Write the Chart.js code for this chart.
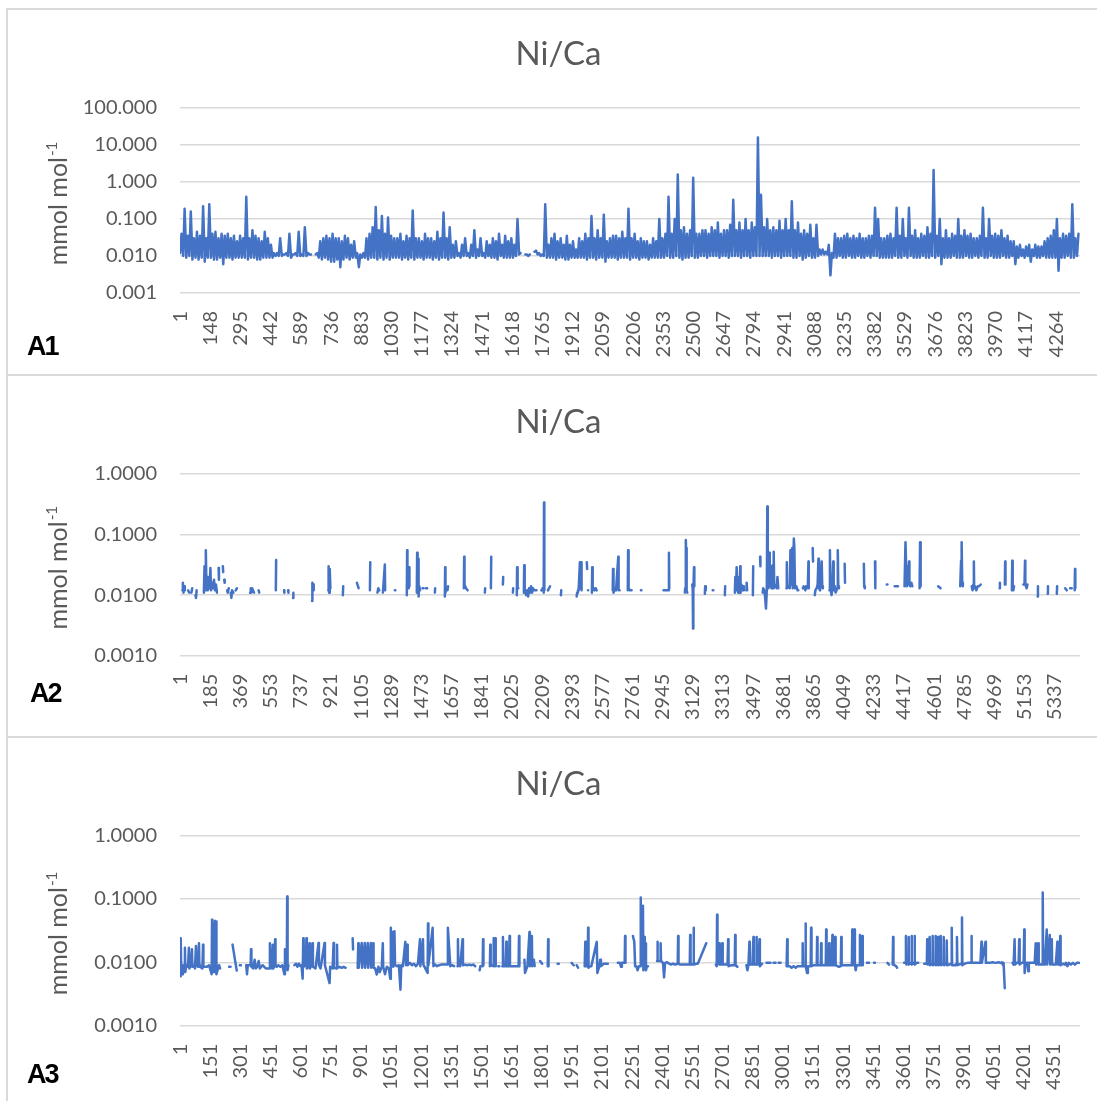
<!DOCTYPE html>
<html lang="en">
<head>
<meta charset="utf-8">
<title>Ni/Ca</title>
<script src="https://cdn.jsdelivr.net/npm/chart.js@4.4.1/dist/chart.umd.min.js"></script>
<style>
    html, body { margin: 0; padding: 0; background: #fff; overflow: hidden; }
    .cadre { position: absolute; left: 6px; width: 1200px; border: 2px solid #d9d9d9; box-sizing: border-box; }
    canvas { position: absolute; left: 7px; }
</style>
</head>
<body>
<div class="cadre" style="top:8px;height:368px"></div>
<div class="cadre" style="top:374px;height:364px"></div>
<div class="cadre" style="top:736px;height:400px"></div>
<canvas id="chartA1" width="1103" height="364" style="top:10px"></canvas>
<canvas id="chartA2" width="1103" height="360" style="top:376px"></canvas>
<canvas id="chartA3" width="1103" height="363" style="top:738px"></canvas>

<script>
// --- Données ---

// A1 : par tranche de 15 échantillons, valeur basse (début de tranche) et valeur haute (milieu de tranche)
const a1Count = 4380;
const a1FirstSample = 1;
const a1Step = 15;
const a1HighOffset = 7;
const a1High = [
    0.04, 0.19, 0.035, 0.16, 0.03, 0.045, 0.035, 0.22, 0.03, 0.25,
    0.04, 0.045, 0.03, 0.04, 0.035, 0.04, 0.03, 0.035, 0.025, 0.035,
    0.03, 0.4, 0.03, 0.05, 0.035, 0.03, 0.025, 0.045, 0.03, 0.02,
    0.012, 0.012, 0.03, 0.011, 0.012, 0.04, 0.011, 0.012, 0.045, 0.011,
    0.06, 0.012, 0.011, null, 0.012, 0.025, 0.03, 0.035, 0.03, 0.04,
    0.03, 0.03, 0.025, 0.035, 0.03, 0.02, 0.025, 0.012, 0.011, 0.012,
    0.03, 0.04, 0.06, 0.21, 0.05, 0.12, 0.04, 0.11, 0.035, 0.03,
    0.03, 0.04, 0.025, 0.035, 0.03, 0.17, 0.03, 0.03, 0.025, 0.04,
    0.03, 0.03, 0.025, 0.045, 0.03, 0.15, 0.03, 0.06, 0.02, 0.025,
    0.012, 0.02, 0.03, 0.012, 0.02, 0.05, 0.015, 0.03, 0.012, 0.025,
    0.02, 0.03, 0.025, 0.04, 0.02, 0.035, 0.025, 0.03, 0.02, 0.1,
    0.012, null, 0.011, 0.011, null, 0.014, 0.012, 0.011, 0.25, 0.02,
    0.03, 0.04, 0.025, 0.03, 0.02, 0.035, 0.02, 0.025, 0.015, 0.03,
    0.025, 0.04, 0.03, 0.12, 0.03, 0.05, 0.03, 0.13, 0.025, 0.03,
    0.035, 0.035, 0.03, 0.045, 0.03, 0.19, 0.03, 0.04, 0.025, 0.03,
    0.025, 0.025, 0.02, 0.03, 0.025, 0.1, 0.03, 0.04, 0.4, 0.04,
    0.1, 1.6, 0.05, 0.06, 0.04, 0.05, 1.3, 0.04, 0.04, 0.05,
    0.05, 0.04, 0.06, 0.05, 0.08, 0.04, 0.05, 0.05, 0.07, 0.33,
    0.05, 0.08, 0.05, 0.1, 0.05, 0.08, 0.06, 16, 0.45, 0.06,
    0.1, 0.05, 0.06, 0.05, 0.09, 0.05, 0.1, 0.05, 0.3, 0.05,
    0.08, 0.04, 0.05, 0.04, 0.07, 0.03, 0.07, 0.015, 0.015, 0.013,
    0.02, 0.012, 0.04, 0.03, 0.03, 0.035, 0.04, 0.03, 0.035, 0.03,
    0.04, 0.03, 0.03, 0.035, 0.035, 0.2, 0.1, 0.03, 0.03, 0.035,
    0.04, 0.03, 0.2, 0.035, 0.1, 0.03, 0.2, 0.035, 0.05, 0.03,
    0.04, 0.035, 0.06, 0.04, 2.1, 0.035, 0.1, 0.03, 0.05, 0.03,
    0.04, 0.035, 0.1, 0.035, 0.05, 0.035, 0.04, 0.03, 0.03, 0.035,
    0.2, 0.03, 0.1, 0.035, 0.04, 0.035, 0.05, 0.03, 0.035, 0.025,
    0.025, 0.018, 0.02, 0.015, 0.018, 0.02, 0.015, 0.02, 0.018, 0.018,
    0.025, 0.03, 0.035, 0.05, 0.1, 0.03, 0.04, 0.035, 0.04, 0.25, 0.03, 0.04
];
const a1Low = [
    0.012, 0.01, 0.009, 0.01, 0.008, 0.009, 0.008, 0.009, 0.007, 0.009,
    0.009, 0.008, 0.008, 0.009, 0.006, 0.009, 0.009, 0.008, 0.009, 0.009,
    0.009, 0.009, 0.008, 0.009, 0.009, 0.008, 0.008, 0.009, 0.009, 0.009,
    0.009, 0.01, 0.01, 0.01, 0.011, 0.01, 0.009, 0.011, 0.01, 0.01,
    0.01, 0.01, 0.011, null, 0.011, 0.009, 0.008, 0.009, 0.008, 0.007,
    0.007, 0.008, 0.005, 0.008, 0.009, 0.008, 0.009, 0.009, 0.005, 0.009,
    0.009, 0.008, 0.009, 0.009, 0.008, 0.009, 0.008, 0.009, 0.008, 0.009,
    0.009, 0.009, 0.008, 0.009, 0.008, 0.009, 0.008, 0.009, 0.009, 0.008,
    0.009, 0.009, 0.008, 0.009, 0.008, 0.009, 0.009, 0.008, 0.009, 0.009,
    0.01, 0.009, 0.01, 0.01, 0.009, 0.01, 0.009, 0.01, 0.01, 0.009,
    0.01, 0.009, 0.009, 0.008, 0.01, 0.009, 0.009, 0.009, 0.009, 0.01,
    0.011, null, 0.011, 0.01, null, 0.013, 0.011, 0.01, 0.01, 0.009,
    0.009, 0.009, 0.008, 0.009, 0.009, 0.008, 0.008, 0.009, 0.009, 0.009,
    0.009, 0.009, 0.008, 0.009, 0.009, 0.008, 0.009, 0.009, 0.007, 0.009,
    0.009, 0.009, 0.008, 0.009, 0.009, 0.009, 0.008, 0.009, 0.009, 0.008,
    0.009, 0.009, 0.008, 0.009, 0.009, 0.009, 0.009, 0.009, 0.01, 0.009,
    0.009, 0.01, 0.009, 0.008, 0.009, 0.009, 0.01, 0.009, 0.009, 0.01,
    0.01, 0.009, 0.01, 0.01, 0.01, 0.009, 0.01, 0.01, 0.009, 0.01,
    0.01, 0.01, 0.009, 0.01, 0.01, 0.009, 0.01, 0.01, 0.01, 0.01,
    0.01, 0.01, 0.009, 0.01, 0.01, 0.009, 0.01, 0.01, 0.01, 0.009,
    0.009, 0.01, 0.008, 0.009, 0.01, 0.009, 0.009, 0.01, 0.011, 0.011,
    0.011, 0.003, 0.009, 0.009, 0.01, 0.009, 0.009, 0.01, 0.009, 0.009,
    0.01, 0.009, 0.009, 0.01, 0.009, 0.01, 0.01, 0.009, 0.009, 0.009,
    0.009, 0.009, 0.01, 0.009, 0.009, 0.01, 0.009, 0.01, 0.009, 0.009,
    0.009, 0.01, 0.009, 0.009, 0.01, 0.009, 0.01, 0.006, 0.009, 0.009,
    0.009, 0.01, 0.009, 0.009, 0.009, 0.01, 0.009, 0.009, 0.01, 0.009,
    0.01, 0.009, 0.009, 0.01, 0.009, 0.009, 0.009, 0.01, 0.009, 0.009,
    0.01, 0.006, 0.009, 0.01, 0.009, 0.01, 0.007, 0.01, 0.009, 0.009,
    0.01, 0.009, 0.009, 0.009, 0.009, 0.004, 0.009, 0.009, 0.01, 0.009, 0.009, 0.01
];
const a1XTicks = [1, 148, 295, 442, 589, 736, 883, 1030, 1177, 1324, 1471, 1618, 1765, 1912, 2059,
    2206, 2353, 2500, 2647, 2794, 2941, 3088, 3235, 3382, 3529, 3676, 3823, 3970, 4117, 4264];
const a1YTicks = [0.001, 0.01, 0.1, 1, 10, 100];

// A2 : tronçons continus de [échantillon, Ni/Ca]
const a2Count = 5490;
const a2Runs = [
    [[15, 0.012], [18, 0.016], [22, 0.011], [26, 0.014], [30, 0.012]],
    [[50, 0.012], [56, 0.011]],
    [[70, 0.011], [75, 0.013]],
    [[95, 0.01], [98, 0.009], [102, 0.012]],
    [[146, 0.011], [150, 0.03], [154, 0.012], [158, 0.055], [162, 0.013], [166, 0.02], [170, 0.012], [176, 0.015],
     [180, 0.013], [186, 0.028], [190, 0.012], [196, 0.016], [202, 0.013], [208, 0.018], [214, 0.012], [220, 0.015], [226, 0.011]],
    [[236, 0.028], [238, 0.018]],
    [[262, 0.03], [264, 0.024]],
    [[270, 0.018], [273, 0.016]],
    [[288, 0.012], [292, 0.011], [298, 0.013]],
    [[310, 0.011], [314, 0.009], [318, 0.012], [326, 0.011]],
    [[340, 0.012], [348, 0.013]],
    [[428, 0.011], [432, 0.013], [436, 0.011], [440, 0.013], [446, 0.012], [452, 0.011]],
    [[480, 0.012], [484, 0.011]],
    [[585, 0.012], [587, 0.038]],
    [[635, 0.012], [637, 0.011]],
    [[660, 0.012], [662, 0.011]],
    [[690, 0.009], [692, 0.011]],
    [[806, 0.008], [808, 0.016], [812, 0.012], [816, 0.015]],
    [[905, 0.012], [907, 0.03], [910, 0.011], [914, 0.027], [918, 0.013]],
    [[994, 0.01], [996, 0.014]],
    [[1080, 0.016], [1090, 0.013]],
    [[1159, 0.012], [1161, 0.035]],
    [[1205, 0.011], [1210, 0.013], [1216, 0.012]],
    [[1238, 0.011], [1240, 0.013], [1250, 0.032], [1252, 0.012]],
    [[1311, 0.012], [1314, 0.012]],
    [[1384, 0.01], [1386, 0.055], [1388, 0.013], [1396, 0.013], [1398, 0.029], [1400, 0.014]],
    [[1445, 0.011], [1447, 0.05], [1450, 0.012], [1453, 0.04], [1456, 0.0095], [1460, 0.014], [1465, 0.012]],
    [[1480, 0.013], [1485, 0.013]],
    [[1500, 0.013], [1508, 0.013]],
    [[1555, 0.011], [1557, 0.013]],
    [[1616, 0.0095], [1618, 0.029], [1620, 0.011]],
    [[1632, 0.012], [1636, 0.014]],
    [[1732, 0.013], [1734, 0.043], [1736, 0.015], [1745, 0.013], [1755, 0.012]],
    [[1860, 0.011], [1862, 0.013]],
    [[1897, 0.013], [1899, 0.043]],
    [[1970, 0.015], [1972, 0.02]],
    [[2031, 0.011], [2033, 0.013]],
    [[2055, 0.01], [2057, 0.029], [2060, 0.013], [2064, 0.013]],
    [[2098, 0.011], [2100, 0.031], [2103, 0.012], [2108, 0.011], [2112, 0.01], [2118, 0.012], [2124, 0.0095], [2130, 0.013],
     [2136, 0.011], [2142, 0.014], [2148, 0.011], [2154, 0.013], [2160, 0.012], [2170, 0.012], [2175, 0.012]],
    [[2205, 0.012], [2212, 0.013]],
    [[2219, 0.011], [2221, 0.34], [2223, 0.012]],
    [[2245, 0.012], [2258, 0.014]],
    [[2324, 0.01], [2326, 0.012]],
    [[2420, 0.0095], [2423, 0.011], [2428, 0.012], [2432, 0.012], [2440, 0.035], [2442, 0.013], [2448, 0.035], [2450, 0.012]],
    [[2482, 0.035], [2484, 0.027]],
    [[2490, 0.012], [2492, 0.012]],
    [[2513, 0.011], [2515, 0.029], [2518, 0.012], [2524, 0.013], [2530, 0.012], [2536, 0.013], [2542, 0.012]],
    [[2640, 0.012], [2642, 0.027], [2645, 0.011], [2652, 0.013], [2660, 0.012], [2674, 0.043], [2676, 0.012], [2682, 0.012]],
    [[2732, 0.012], [2734, 0.055], [2737, 0.013], [2745, 0.012], [2755, 0.012]],
    [[2812, 0.012], [2815, 0.012]],
    [[2950, 0.012], [2980, 0.012], [2983, 0.05], [2985, 0.013]],
    [[3080, 0.011], [3082, 0.013], [3086, 0.081], [3088, 0.05], [3090, 0.06], [3092, 0.012], [3095, 0.011]],
    [[3125, 0.015], [3128, 0.013], [3130, 0.0028], [3132, 0.012], [3136, 0.029], [3138, 0.014]],
    [[3202, 0.0105], [3204, 0.014], [3208, 0.012]],
    [[3250, 0.012], [3254, 0.012]],
    [[3324, 0.01], [3326, 0.014]],
    [[3385, 0.011], [3388, 0.02], [3392, 0.012], [3396, 0.029], [3400, 0.013], [3406, 0.011], [3410, 0.02], [3414, 0.012],
     [3418, 0.03], [3420, 0.011], [3425, 0.015], [3430, 0.012], [3435, 0.014], [3440, 0.012]],
    [[3455, 0.012], [3457, 0.016], [3460, 0.012]],
    [[3495, 0.01], [3497, 0.03]],
    [[3539, 0.043], [3541, 0.03]],
    [[3555, 0.011], [3558, 0.013], [3565, 0.012], [3570, 0.009], [3575, 0.006], [3580, 0.012], [3583, 0.29], [3585, 0.1],
     [3587, 0.045], [3590, 0.013], [3595, 0.05], [3598, 0.014], [3605, 0.03], [3608, 0.013], [3615, 0.031], [3618, 0.013],
     [3622, 0.052], [3625, 0.015], [3635, 0.014], [3640, 0.013], [3645, 0.02], [3650, 0.013]],
    [[3700, 0.013], [3702, 0.035], [3704, 0.013], [3710, 0.014], [3720, 0.013], [3724, 0.055], [3727, 0.015], [3735, 0.06],
     [3738, 0.013], [3745, 0.086], [3748, 0.06], [3752, 0.013], [3760, 0.014], [3768, 0.012], [3772, 0.012]],
    [[3800, 0.013], [3805, 0.014], [3815, 0.012], [3820, 0.014], [3830, 0.013], [3834, 0.036], [3836, 0.013]],
    [[3860, 0.06], [3862, 0.036]],
    [[3873, 0.01], [3876, 0.012], [3884, 0.013], [3890, 0.015], [3895, 0.04], [3898, 0.013], [3905, 0.012], [3915, 0.036],
     [3918, 0.014], [3922, 0.013]],
    [[3962, 0.012], [3965, 0.055], [3968, 0.013], [3975, 0.01], [3980, 0.013], [3985, 0.036], [3988, 0.012], [3995, 0.014],
     [4000, 0.011], [4010, 0.013], [4013, 0.055], [4016, 0.014], [4020, 0.013]],
    [[4055, 0.033], [4057, 0.016]],
    [[4172, 0.033], [4174, 0.014], [4178, 0.013]],
    [[4240, 0.036], [4242, 0.013]],
    [[4312, 0.015], [4316, 0.015]],
    [[4360, 0.014], [4380, 0.014]],
    [[4420, 0.014], [4426, 0.075], [4430, 0.03], [4434, 0.014], [4440, 0.015], [4448, 0.036], [4450, 0.015], [4456, 0.014],
     [4462, 0.016], [4468, 0.014]],
    [[4512, 0.013], [4515, 0.075], [4517, 0.016], [4520, 0.014]],
    [[4625, 0.014], [4640, 0.013]],
    [[4760, 0.014], [4765, 0.037], [4767, 0.015], [4770, 0.075], [4772, 0.016], [4776, 0.014]],
    [[4830, 0.014], [4835, 0.012], [4840, 0.015], [4843, 0.036], [4845, 0.013], [4850, 0.014], [4858, 0.012], [4866, 0.014],
     [4875, 0.014], [4885, 0.015]],
    [[5000, 0.013], [5002, 0.016]],
    [[5032, 0.015], [5034, 0.036], [5036, 0.015]],
    [[5075, 0.012], [5077, 0.037], [5080, 0.013], [5084, 0.012], [5088, 0.014], [5092, 0.014]],
    [[5145, 0.015], [5152, 0.015], [5155, 0.037], [5157, 0.015], [5165, 0.013], [5170, 0.015]],
    [[5232, 0.0095], [5234, 0.014]],
    [[5293, 0.0105], [5295, 0.014]],
    [[5349, 0.0105], [5351, 0.014]],
    [[5400, 0.013], [5410, 0.012]],
    [[5430, 0.013], [5440, 0.013]],
    [[5458, 0.012], [5460, 0.027], [5462, 0.013]]
];
const a2XTicks = [1, 185, 369, 553, 737, 921, 1105, 1289, 1473, 1657, 1841, 2025, 2209, 2393, 2577,
    2761, 2945, 3129, 3313, 3497, 3681, 3865, 4049, 4233, 4417, 4601, 4785, 4969, 5153, 5337];
const a2YTicks = [0.001, 0.01, 0.1, 1];

// A3 : tronçons continus de [échantillon, Ni/Ca]
const a3Count = 4480;
const a3Runs = [
    [[1, 0.009], [3, 0.006], [5, 0.024], [7, 0.007], [9, 0.009], [12, 0.0065], [15, 0.009], [18, 0.008], [22, 0.009],
     [25, 0.017], [27, 0.007], [32, 0.009], [40, 0.0085], [45, 0.017], [47, 0.008], [55, 0.009], [60, 0.016], [62, 0.0085],
     [70, 0.009], [75, 0.008], [80, 0.018], [82, 0.009], [90, 0.0085], [95, 0.02], [97, 0.009], [100, 0.0085], [112, 0.008],
     [115, 0.019], [117, 0.0085], [125, 0.0085], [135, 0.0085], [145, 0.009], [158, 0.0065], [160, 0.047], [162, 0.007],
     [165, 0.04], [167, 0.0075], [170, 0.03], [172, 0.007], [175, 0.045], [177, 0.008], [180, 0.044], [182, 0.0065],
     [190, 0.008], [195, 0.009], [200, 0.008]],
    [[245, 0.0085], [252, 0.0085]],
    [[262, 0.019], [283, 0.0074]],
    [[298, 0.009], [304, 0.009]],
    [[330, 0.009], [334, 0.0065], [338, 0.009], [352, 0.009], [354, 0.016], [356, 0.0085], [365, 0.008], [372, 0.011],
     [378, 0.008], [385, 0.0085], [392, 0.0105], [398, 0.008], [405, 0.0085], [412, 0.009], [420, 0.0085], [428, 0.008],
     [445, 0.008], [448, 0.02], [450, 0.0085], [458, 0.008], [462, 0.019], [464, 0.008], [470, 0.0085], [474, 0.023],
     [476, 0.009], [482, 0.0085], [490, 0.009], [500, 0.0085], [510, 0.009], [520, 0.0065], [523, 0.016], [526, 0.008],
     [532, 0.0085], [534, 0.109], [536, 0.0075], [540, 0.009]],
    [[570, 0.009], [578, 0.0095], [585, 0.0085], [592, 0.0095], [598, 0.0088]],
    [[605, 0.009], [611, 0.0055], [614, 0.024], [616, 0.0085], [625, 0.009], [630, 0.024], [632, 0.008], [640, 0.0085],
     [645, 0.02], [647, 0.008], [655, 0.009], [660, 0.02], [662, 0.0085], [675, 0.008], [690, 0.0202], [692, 0.009],
     [700, 0.008], [720, 0.0202], [722, 0.009], [745, 0.0047], [748, 0.0085], [760, 0.008], [765, 0.0202], [767, 0.0082],
     [780, 0.008], [782, 0.019], [784, 0.0082], [795, 0.0085], [805, 0.0082], [815, 0.0085], [825, 0.0082]],
    [[860, 0.024], [862, 0.016]],
    [[885, 0.0082], [888, 0.02], [890, 0.0082], [905, 0.0202], [907, 0.0082], [920, 0.0202], [922, 0.0082], [935, 0.0202],
     [937, 0.0082], [950, 0.0202], [952, 0.0082], [962, 0.02], [964, 0.0082], [972, 0.008], [980, 0.0064], [988, 0.0085],
     [995, 0.007], [1005, 0.0085], [1010, 0.02], [1012, 0.0085], [1021, 0.0065], [1030, 0.0085], [1040, 0.008],
     [1047, 0.0055], [1050, 0.035], [1053, 0.009], [1058, 0.03], [1062, 0.0085], [1068, 0.031], [1071, 0.009],
     [1080, 0.0087], [1090, 0.009], [1098, 0.0037], [1102, 0.009], [1110, 0.0087], [1122, 0.021], [1126, 0.009],
     [1132, 0.019], [1134, 0.009], [1145, 0.0098], [1155, 0.009], [1165, 0.0095], [1175, 0.0087], [1185, 0.0095],
     [1195, 0.023], [1197, 0.0087], [1210, 0.023], [1212, 0.0092], [1233, 0.0068], [1235, 0.041], [1237, 0.009],
     [1258, 0.035], [1262, 0.0087], [1270, 0.0092], [1280, 0.0087], [1290, 0.009], [1300, 0.0092], [1332, 0.0092],
     [1334, 0.035], [1346, 0.0087], [1355, 0.009], [1365, 0.0087]],
    [[1382, 0.0087], [1384, 0.023], [1386, 0.009], [1395, 0.0087], [1407, 0.023], [1409, 0.009], [1420, 0.0092],
     [1430, 0.009], [1440, 0.0092], [1450, 0.009], [1460, 0.0092], [1470, 0.0087]],
    [[1492, 0.0075], [1496, 0.0087]],
    [[1507, 0.0087], [1509, 0.023], [1511, 0.009]],
    [[1543, 0.0087], [1545, 0.019], [1547, 0.009], [1560, 0.0087], [1562, 0.024], [1564, 0.009], [1570, 0.024], [1572, 0.0087]],
    [[1585, 0.0087], [1590, 0.0087]],
    [[1605, 0.0087], [1608, 0.025], [1610, 0.0087], [1622, 0.0087], [1625, 0.021], [1627, 0.0087], [1638, 0.0087],
     [1641, 0.026], [1643, 0.0087], [1652, 0.0087], [1670, 0.0087], [1686, 0.0087], [1688, 0.026], [1690, 0.0087]],
    [[1715, 0.011], [1718, 0.0068], [1730, 0.0087], [1740, 0.03], [1742, 0.0087], [1752, 0.026], [1754, 0.0087],
     [1762, 0.011], [1766, 0.0087]],
    [[1793, 0.0105], [1803, 0.0095]],
    [[1831, 0.0087], [1833, 0.023], [1835, 0.0087]],
    [[1880, 0.0095], [1886, 0.0095]],
    [[1950, 0.0098], [1960, 0.009]],
    [[1975, 0.009], [1982, 0.0082]],
    [[2015, 0.0087], [2018, 0.021], [2020, 0.0087], [2030, 0.0087], [2032, 0.035], [2034, 0.0082], [2040, 0.0087],
     [2048, 0.0087], [2075, 0.021], [2078, 0.0068], [2088, 0.0087], [2092, 0.011], [2096, 0.0087], [2110, 0.0095],
     [2120, 0.0095], [2130, 0.0095]],
    [[2180, 0.0098], [2190, 0.0098], [2196, 0.0085], [2200, 0.0098], [2214, 0.0098], [2216, 0.026], [2218, 0.0098]],
    [[2255, 0.026], [2262, 0.021], [2266, 0.0087], [2272, 0.0087], [2278, 0.0075], [2285, 0.0087], [2292, 0.0087],
     [2294, 0.105], [2296, 0.009], [2305, 0.078], [2307, 0.0075], [2312, 0.025], [2314, 0.008], [2318, 0.02],
     [2320, 0.0075], [2325, 0.0087], [2330, 0.0087]],
    [[2375, 0.0105], [2377, 0.021], [2379, 0.0105], [2390, 0.0105], [2393, 0.02], [2395, 0.0105], [2405, 0.0098],
     [2410, 0.0058], [2415, 0.0098], [2425, 0.01], [2435, 0.0095], [2445, 0.0092], [2455, 0.0095], [2465, 0.0092],
     [2478, 0.0095], [2480, 0.026], [2482, 0.0095], [2490, 0.0092], [2538, 0.0092], [2540, 0.027], [2542, 0.0092],
     [2555, 0.0092], [2557, 0.035], [2559, 0.0092], [2570, 0.0095], [2578, 0.0095], [2620, 0.02]],
    [[2668, 0.0092], [2672, 0.0087], [2674, 0.056], [2676, 0.0092], [2685, 0.02], [2687, 0.0092], [2695, 0.0092],
     [2700, 0.02], [2702, 0.0092], [2712, 0.0092], [2726, 0.0092], [2729, 0.023], [2731, 0.0087], [2745, 0.009],
     [2762, 0.009], [2764, 0.027], [2766, 0.009], [2775, 0.0085]],
    [[2820, 0.009], [2825, 0.0075], [2830, 0.009], [2835, 0.021], [2837, 0.0092], [2850, 0.0092], [2855, 0.025],
     [2857, 0.0092], [2868, 0.0092], [2870, 0.025], [2872, 0.0092], [2880, 0.0092], [2885, 0.023], [2887, 0.0087],
     [2898, 0.0095]],
    [[2920, 0.0098], [2930, 0.0098], [2940, 0.0098]],
    [[2955, 0.0098], [2965, 0.0098]],
    [[2980, 0.0098], [2990, 0.0098]],
    [[3020, 0.0087], [3023, 0.023], [3025, 0.0087], [3035, 0.0087], [3045, 0.0082], [3055, 0.0087], [3065, 0.0082],
     [3075, 0.0087], [3085, 0.0087], [3098, 0.0087], [3100, 0.02], [3102, 0.0087], [3112, 0.0087], [3114, 0.041],
     [3116, 0.0087], [3122, 0.0068], [3126, 0.0087], [3140, 0.0087], [3142, 0.035], [3144, 0.0087], [3155, 0.009],
     [3170, 0.009], [3172, 0.025], [3174, 0.009], [3190, 0.009], [3192, 0.02], [3194, 0.009], [3215, 0.009],
     [3217, 0.033], [3219, 0.009], [3230, 0.009], [3232, 0.02], [3234, 0.009], [3245, 0.009], [3248, 0.027],
     [3250, 0.009], [3260, 0.009], [3262, 0.025], [3264, 0.009], [3280, 0.0085], [3290, 0.0087], [3292, 0.025],
     [3294, 0.009], [3345, 0.009], [3347, 0.033], [3349, 0.009], [3358, 0.033], [3360, 0.009], [3364, 0.0075],
     [3368, 0.009], [3383, 0.009], [3385, 0.027], [3387, 0.009], [3395, 0.009], [3397, 0.026], [3399, 0.009]],
    [[3420, 0.0098], [3430, 0.0098]],
    [[3455, 0.0098], [3460, 0.0098]],
    [[3522, 0.0098], [3530, 0.0092]],
    [[3548, 0.0092], [3550, 0.025], [3552, 0.0092], [3565, 0.0087], [3570, 0.0082]],
    [[3605, 0.0098], [3612, 0.0098], [3614, 0.026], [3616, 0.0092], [3625, 0.0098], [3627, 0.025], [3629, 0.0092],
     [3640, 0.0098], [3642, 0.026], [3644, 0.0092], [3655, 0.0098], [3657, 0.026], [3659, 0.0092], [3668, 0.0098],
     [3675, 0.0098]],
    [[3705, 0.0095], [3718, 0.0095], [3720, 0.023], [3722, 0.0092], [3730, 0.0095], [3732, 0.025], [3734, 0.009],
     [3745, 0.0095], [3747, 0.026], [3749, 0.009], [3760, 0.0095], [3762, 0.026], [3764, 0.009], [3772, 0.0095],
     [3774, 0.025], [3776, 0.009], [3785, 0.0095], [3787, 0.026], [3789, 0.009], [3800, 0.0095], [3802, 0.025],
     [3804, 0.009], [3815, 0.0095], [3817, 0.022], [3819, 0.009], [3840, 0.0095], [3842, 0.035], [3844, 0.009],
     [3860, 0.009], [3865, 0.0095], [3868, 0.025], [3870, 0.009], [3890, 0.0095], [3893, 0.051], [3895, 0.009],
     [3905, 0.0095], [3920, 0.0098], [3938, 0.0098], [3940, 0.026], [3942, 0.0098], [3950, 0.0098], [3985, 0.0098],
     [3990, 0.021], [3992, 0.0098], [4010, 0.021], [4012, 0.0098], [4030, 0.0098], [4045, 0.01], [4060, 0.0098],
     [4075, 0.01], [4085, 0.0098]],
    [[4092, 0.01], [4096, 0.0092], [4100, 0.0098], [4106, 0.0039]],
    [[4145, 0.0098], [4150, 0.0092], [4155, 0.023], [4157, 0.0092], [4165, 0.0098], [4175, 0.0098], [4178, 0.023],
     [4180, 0.0092], [4190, 0.0098], [4200, 0.0098], [4203, 0.033], [4205, 0.0068], [4210, 0.0098], [4220, 0.0098],
     [4223, 0.0072], [4226, 0.0098], [4255, 0.0098], [4260, 0.02], [4262, 0.0092], [4270, 0.0098], [4272, 0.02],
     [4275, 0.0092], [4292, 0.0092], [4295, 0.126], [4297, 0.0092], [4305, 0.0092], [4315, 0.033], [4317, 0.0092],
     [4330, 0.027], [4332, 0.0092], [4340, 0.023], [4342, 0.0092], [4360, 0.0092], [4368, 0.021], [4370, 0.0092],
     [4380, 0.0092], [4382, 0.026], [4384, 0.009], [4395, 0.0095], [4405, 0.0092], [4410, 0.0098], [4418, 0.0087],
     [4425, 0.0098], [4435, 0.0092], [4445, 0.0098], [4455, 0.0092], [4465, 0.0098], [4475, 0.0098]]
];
const a3XTicks = [1, 151, 301, 451, 601, 751, 901, 1051, 1201, 1351, 1501, 1651, 1801, 1951, 2101,
    2251, 2401, 2551, 2701, 2851, 3001, 3151, 3301, 3451, 3601, 3751, 3901, 4051, 4201, 4351];
const a3YTicks = [0.001, 0.01, 0.1, 1];

const seriesTitle = 'Ni/Ca';
const unitLabel = 'mmol mol';
const unitExponent = '-1';

/**
 * Dessine le titre, le titre de l'axe Y (avec exposant) et la lettre du panneau
 */
const panelText = {
    id: 'panelText',
    afterDraw(chart, args, opts) {
        const ctx = chart.ctx;
        const area = chart.chartArea;

        ctx.save();
        ctx.fillStyle = '#595959';
        ctx.textBaseline = 'alphabetic';

        // Titre centré
        ctx.font = '33px Lato';
        ctx.textAlign = 'center';
        ctx.fillText(seriesTitle, chart.width / 2, opts.titleY);

        // Titre de l'axe Y, tourné
        ctx.translate(59.7, (area.top + area.bottom) / 2 + 3);
        ctx.rotate(-Math.PI / 2);
        ctx.textAlign = 'left';
        ctx.font = '25px Lato';
        const w1 = ctx.measureText(unitLabel).width;
        ctx.font = '15px Lato';
        const w2 = ctx.measureText(unitExponent).width;
        const start = -(w1 + w2 + 1) / 2;
        ctx.font = '25px Lato';
        ctx.fillText(unitLabel, start, 0);
        ctx.font = '15px Lato';
        ctx.fillText(unitExponent, start + w1 + 1, -10);
        ctx.restore();

        // Lettre du panneau (A1, A2, A3)
        ctx.save();
        ctx.fillStyle = '#000000';
        ctx.font = 'bold 27px "Liberation Sans"';
        ctx.letterSpacing = '-2px';
        ctx.textAlign = 'left';
        ctx.fillText(opts.tag, opts.tagX, opts.tagY);
        ctx.restore();
    }
};

/**
 * Les trois graphiques Ni/Ca
 */
class NiCaCharts {
    constructor() {
        this.charts = {};
        Chart.defaults.font.family = 'Lato';
        this.initCharts();
    }

    initCharts() {
        this.charts.a1 = this.buildPanel('chartA1', {
            points: this.binsToPoints(a1Low, a1High),
            count: a1Count, xTicks: a1XTicks, yTicks: a1YTicks, decimals: 3, lineWidth: 2.5,
            top: 98, xAxisHeight: 81, titleY: 55, tag: 'A1', tagX: 20, tagY: 345
        });
        this.charts.a2 = this.buildPanel('chartA2', {
            points: this.runsToPoints(a2Runs),
            count: a2Count, xTicks: a2XTicks, yTicks: a2YTicks, decimals: 4, lineWidth: 2.5,
            top: 98, xAxisHeight: 80.3, titleY: 57, tag: 'A2', tagX: 23, tagY: 326
        });
        this.charts.a3 = this.buildPanel('chartA3', {
            points: this.runsToPoints(a3Runs),
            count: a3Count, xTicks: a3XTicks, yTicks: a3YTicks, decimals: 4, lineWidth: 2.5,
            top: 97.5, xAxisHeight: 75.3, titleY: 57, tag: 'A3', tagX: 20, tagY: 345
        });
    }

    /**
     * Alterne valeur basse et valeur haute de chaque tranche
     */
    binsToPoints(low, high) {
        const points = [];
        low.forEach((v, i) => {
            const sample = a1FirstSample + i * a1Step;
            points.push({ x: sample, y: v });
            points.push({ x: sample + a1HighOffset, y: high[i] });
        });
        return points;
    }

    /**
     * Met les tronçons bout à bout, avec un point null entre deux tronçons
     */
    runsToPoints(runs) {
        const points = [];
        runs.forEach(run => {
            run.forEach(([sample, ratio]) => points.push({ x: sample, y: ratio }));
            points.push({ x: run[run.length - 1][0] + 1, y: null });
        });
        return points;
    }

    buildPanel(canvasId, cfg) {
        const canvas = document.getElementById(canvasId);
        if (!canvas) return null;

        const tickFont = { family: 'Lato', size: 20 };

        return new Chart(canvas, {
            type: 'line',
            data: {
                datasets: [{
                    label: seriesTitle,
                    data: cfg.points,
                    borderColor: '#4472C4',
                    borderWidth: cfg.lineWidth,
                    pointRadius: 0,
                    tension: 0,
                    spanGaps: false,
                    borderJoinStyle: 'round',
                    borderCapStyle: 'round'
                }]
            },
            options: {
                responsive: false,
                animation: false,
                devicePixelRatio: 1,
                events: [],
                layout: { padding: { top: cfg.top, right: 30, left: 0, bottom: 0 } },
                plugins: {
                    legend: { display: false },
                    tooltip: { enabled: false },
                    title: { display: false },
                    panelText: { titleY: cfg.titleY, tag: cfg.tag, tagX: cfg.tagX, tagY: cfg.tagY }
                },
                scales: {
                    x: {
                        type: 'linear',
                        min: 0.5,
                        max: cfg.count + 0.5,
                        grid: { display: false, drawTicks: false },
                        border: { display: false },
                        ticks: {
                            autoSkip: false,
                            minRotation: 90,
                            maxRotation: 90,
                            padding: 18,
                            color: '#595959',
                            font: tickFont,
                            callback: value => String(value)
                        },
                        afterBuildTicks: scale => {
                            scale.ticks = cfg.xTicks.map(v => ({ value: v }));
                        },
                        afterFit: scale => {
                            scale.height = cfg.xAxisHeight;
                        }
                    },
                    y: {
                        type: 'logarithmic',
                        min: cfg.yTicks[0],
                        max: cfg.yTicks[cfg.yTicks.length - 1],
                        border: { display: false },
                        grid: { color: '#d9d9d9', lineWidth: 1.5, drawTicks: false },
                        ticks: {
                            padding: 23,
                            color: '#595959',
                            font: tickFont,
                            callback: value => Number(value).toFixed(cfg.decimals)
                        },
                        afterBuildTicks: scale => {
                            scale.ticks = cfg.yTicks.map(v => ({ value: v }));
                        },
                        afterFit: scale => {
                            scale.width = 173;
                        }
                    }
                }
            },
            plugins: [panelText]
        });
    }
}

document.addEventListener('DOMContentLoaded', function() {
    if (typeof Chart !== 'undefined') {
        new NiCaCharts();
    } else {
        console.error('Chart.js n\'est pas chargé.');
    }
});
</script>
</body>
</html>
